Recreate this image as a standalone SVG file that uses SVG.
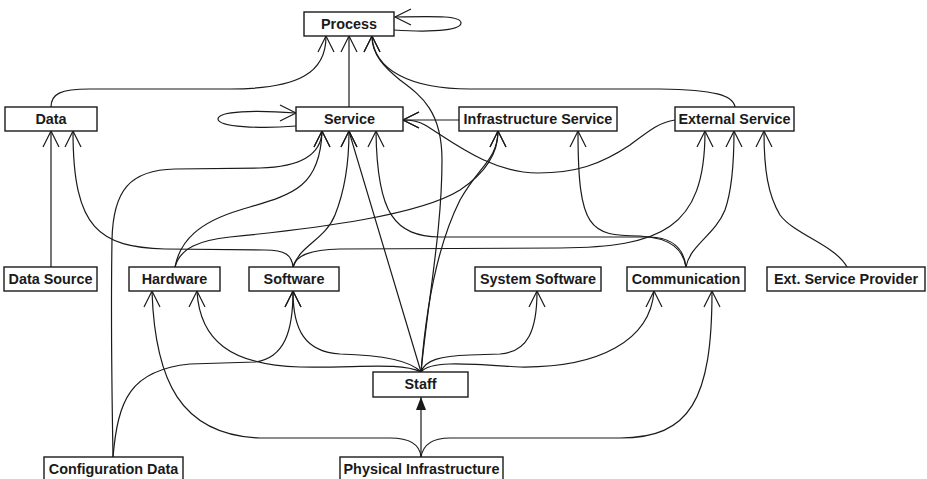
<svg xmlns="http://www.w3.org/2000/svg" width="927" height="479" viewBox="0 0 927 479">
<style>
.box{fill:#fff;stroke:#1a1a1a;stroke-width:1.4}
.lbl{font-family:"Liberation Sans",Arial,sans-serif;font-weight:bold;font-size:14.4px;fill:#1a1a1a;text-anchor:middle}
.e{fill:none;stroke:#1a1a1a;stroke-width:1.2;marker-end:url(#vee)}
.f{fill:none;stroke:#1a1a1a;stroke-width:1.2;marker-end:url(#tri)}
</style>
<defs>
<marker id="vee" markerUnits="userSpaceOnUse" markerWidth="20" markerHeight="20" viewBox="-18 -10 20 20" refX="0" refY="0" orient="auto" overflow="visible">
<path d="M-16,-8 L0,0 L-16,8" fill="none" stroke="#1a1a1a" stroke-width="1.2"/>
</marker>
<marker id="tri" markerUnits="userSpaceOnUse" markerWidth="16" markerHeight="12" viewBox="-14 -6 16 12" refX="0" refY="0" orient="auto" overflow="visible">
<path d="M-13,-5 L0,0 L-13,5 Z" fill="#1a1a1a"/>
</marker>
</defs>
<rect width="927" height="479" fill="#fff"/>
<g id="connectors">
<path class="e" d="M394,30 C440,33 461,29 461,23 C461,16 440,16 395.5,17 H395"/>
<path class="e" d="M296,126 C260,129 218,127 218,119 C218,111 255,110 295.5,113 H296"/>
<path class="e" d="M349,107 V36"/>
<path class="e" d="M51,107 C51,94 60,89 90,89 L230,89 C300,89 326,72 326,36.5 V36"/>
<path class="e" d="M735,107 C733,95 715,90 660,89 L470,89 C410,89 374,70 372,36.5 V36"/>
<path class="e" d="M421,372 C428,300 442,230 442,160 C442,110 420,95 400,80 C385,68 372,55 372,36.5 V36"/>
<path class="e" d="M421,372 L349,131.5 V131"/>
<path class="e" d="M293,267 C300,245 325,240 335,215 C345,190 349,160 349,131.5 V131"/>
<path class="e" d="M175,267 C180,240 200,222 240,210 C290,195 320,190 322,131.5 V131"/>
<path class="e" d="M113,457 C112,400 111,300 112,240 C113,190 130,170 175,169 L260,168 C300,167 321,155 322,131.5 V131"/>
<path class="e" d="M113,457 C118,400 130,370 190,364 L255,362 C285,358 293,330 293,291.5 V291"/>
<path class="e" d="M421,372 C410,360 380,355 340,354 C305,352 293,330 293,291.5 V291"/>
<path class="e" d="M421,372 C400,362 360,368 300,367 C230,365 200,340 197,291.5 V291"/>
<path class="e" d="M421,457 C420,445 410,438 390,438 L260,438 C180,435 155,380 152,291.5 V291"/>
<path class="f" d="M421,457 V397"/>
<path class="e" d="M421,457 C423,445 432,438 450,438 L620,438 C690,438 712,400 712,291.5 V291"/>
<path class="e" d="M421,372 C425,360 440,356 470,355 L500,354 C528,352 537,330 537,291.5 V291"/>
<path class="e" d="M421,372 C430,360 470,364 520,367 C600,368 650,340 654,291.5 V291"/>
<path class="e" d="M421,372 C425,320 435,250 460,200 C480,165 497,160 498,131.5 V131"/>
<path class="e" d="M175,267 C180,248 200,240 230,237 C320,228 420,215 460,190 C490,170 498,150 498,131.5 V131"/>
<path class="e" d="M293,267 C292,255 285,250 265,250 L165,249 C100,247 73,230 73,131.5 V131"/>
<path class="e" d="M51,267 V131"/>
<path class="e" d="M293,267 C296,255 310,250 340,249 L560,248 C660,247 705,230 705,131.5 V131"/>
<path class="e" d="M686,267 C684,250 675,238 650,237 L440,237 C395,236 377,215 376,131.5 V131"/>
<path class="e" d="M686,267 C683,250 672,238 640,236 C590,236 578,230 578,131.5 V131"/>
<path class="e" d="M686,267 C690,245 715,235 725,210 C732,190 734,160 734,131.5 V131"/>
<path class="e" d="M847,267 C835,245 795,235 780,215 C768,195 764,170 764,131.5 V131"/>
<path class="e" d="M675,120 C660,122 650,130 630,145 C600,165 575,173 538,173 C490,173 450,140 425,125 C418,121 412,120 403.5,120 H403"/>
<path class="e" d="M459,120 H403"/>
</g>
<g id="process"><rect class="box" x="304" y="12" width="90" height="24"/><text class="lbl" x="349" y="29.3">Process</text></g>
<g id="service"><rect class="box" x="296" y="107" width="107" height="24"/><text class="lbl" x="349.5" y="124.3">Service</text></g>
<g id="infrastructure-service"><rect class="box" x="459" y="107" width="158" height="24"/><text class="lbl" x="538" y="124.3">Infrastructure Service</text></g>
<g id="external-service"><rect class="box" x="675" y="107" width="119" height="24"/><text class="lbl" x="734.5" y="124.3">External Service</text></g>
<g id="data"><rect class="box" x="5" y="107" width="92" height="24"/><text class="lbl" x="51" y="124.3">Data</text></g>
<g id="data-source"><rect class="box" x="4" y="267" width="93" height="24"/><text class="lbl" x="50.5" y="284.3">Data Source</text></g>
<g id="hardware"><rect class="box" x="129" y="267" width="91" height="24"/><text class="lbl" x="174.5" y="284.3">Hardware</text></g>
<g id="software"><rect class="box" x="249" y="267" width="90" height="24"/><text class="lbl" x="294" y="284.3">Software</text></g>
<g id="system-software"><rect class="box" x="475" y="267" width="126" height="24"/><text class="lbl" x="538" y="284.3">System Software</text></g>
<g id="communication"><rect class="box" x="627" y="267" width="118" height="24"/><text class="lbl" x="686" y="284.3">Communication</text></g>
<g id="ext-service-provider"><rect class="box" x="767" y="267" width="158" height="24"/><text class="lbl" x="846" y="284.3">Ext. Service Provider</text></g>
<g id="staff"><rect class="box" x="373" y="372" width="95" height="25"/><text class="lbl" x="420.5" y="389.3">Staff</text></g>
<g id="configuration-data"><rect class="box" x="44" y="457" width="139" height="24"/><text class="lbl" x="113.5" y="474.3">Configuration Data</text></g>
<g id="physical-infrastructure"><rect class="box" x="340" y="457" width="163" height="24"/><text class="lbl" x="421.5" y="474.3">Physical Infrastructure</text></g>
</svg>
